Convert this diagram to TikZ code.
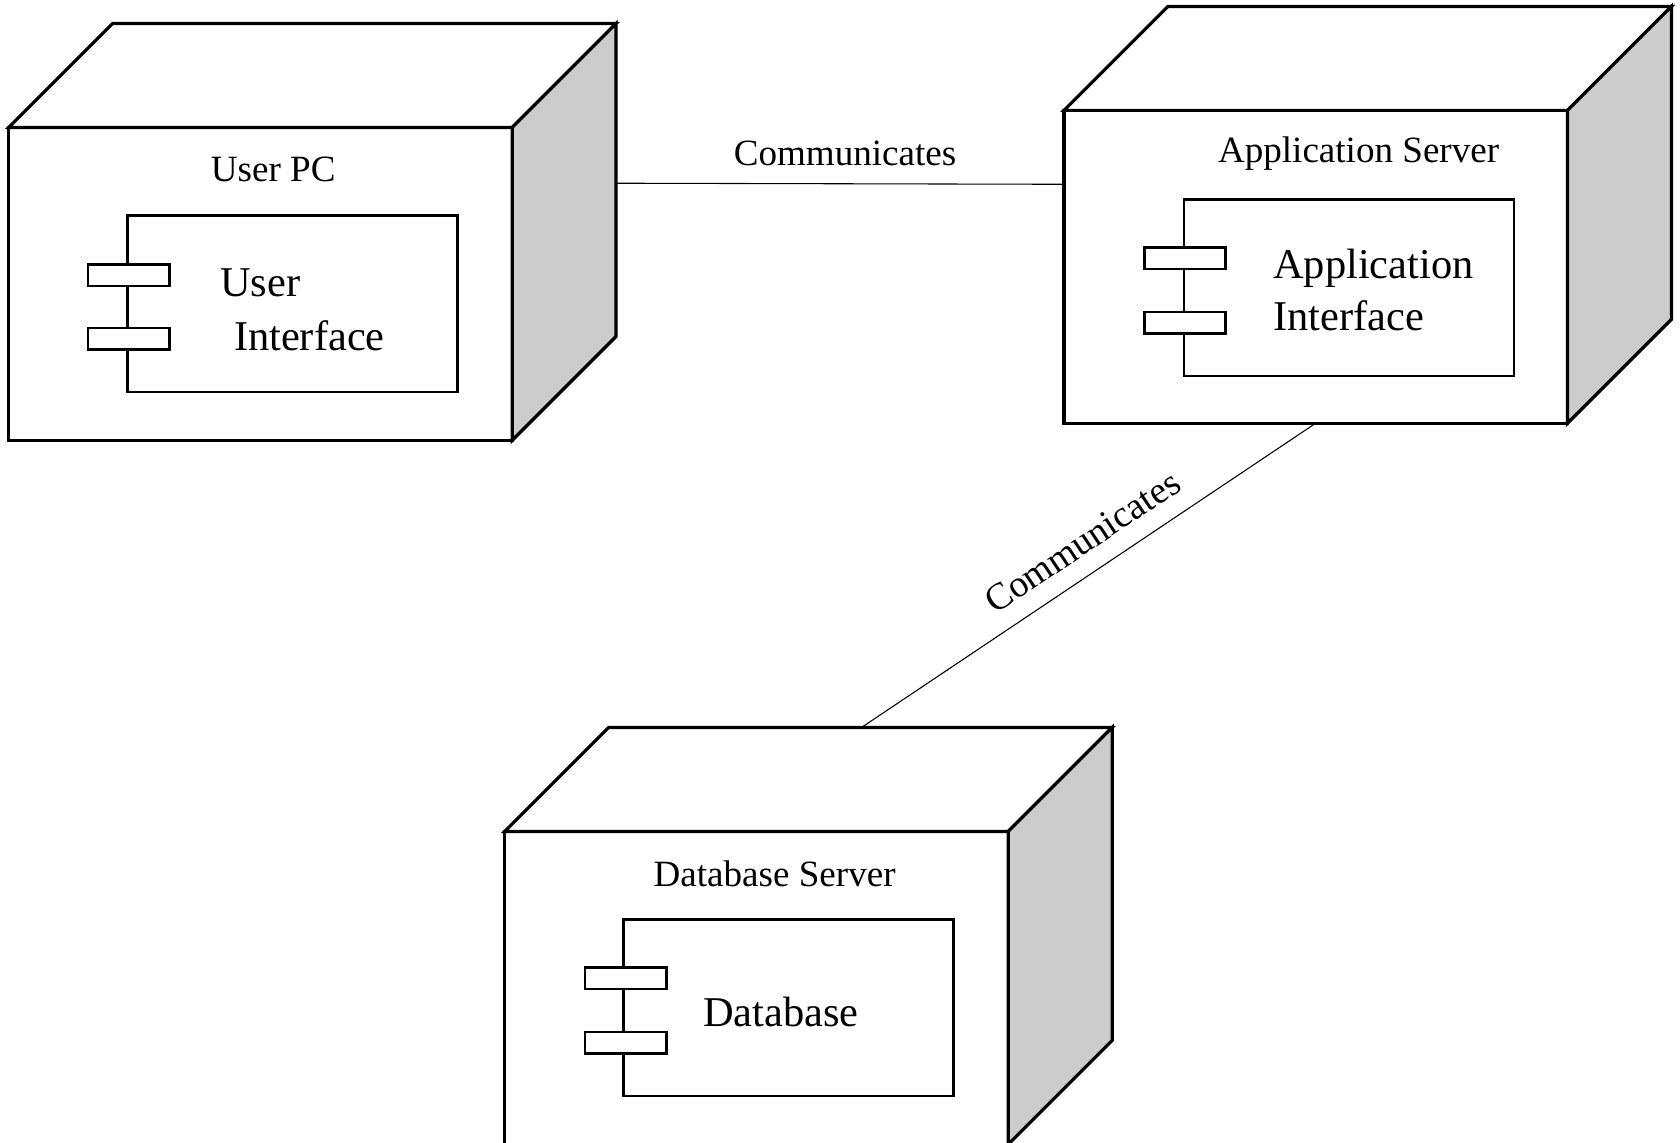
\documentclass[tikz,border=0pt]{standalone}
\usepackage{fontspec}
\setmainfont{Liberation Serif}
\definecolor{sidegray}{HTML}{CCCCCC}
\begin{document}
\begin{tikzpicture}[x=0.5pt,y=-0.5pt,
  face/.style={draw=black, line width=1.5pt, line join=miter},
  front/.style={face, fill=white, minimum width=235pt, minimum height=146pt, inner sep=0pt, outer sep=0pt, anchor=north west},
  comp/.style={draw=black, line width=1.2pt, fill=white, minimum width=154pt, minimum height=82.5pt, inner sep=0pt, outer sep=0pt, anchor=north west},
  tabbox/.style={draw=black, line width=1.2pt, fill=white, minimum width=38pt, minimum height=10pt, inner sep=0pt, outer sep=0pt, anchor=north west},
  title/.style={font=\fontsize{17.3}{20}\selectfont, inner sep=0pt, anchor=base},
  ctext/.style={font=\fontsize{19.8}{24}\selectfont, inner sep=0pt, anchor=base west},
  link/.style={draw=black, line width=0.5pt},
]
\useasboundingbox (0,0) rectangle (1568,1066);

% ---------- User PC ----------
\node[front] (upc) at (8,119) {};
\draw[face, fill=white] (upc.north west) -- ++(97,-97) -- ++(470,0) -- (upc.north east) -- cycle;
\draw[face, fill=sidegray] (upc.north east) -- ++(97,-97) -- ++(0,292) -- (upc.south east) -- cycle;
\node[title] (upctitle) at (255,169.5) {User PC};
\node[comp] (uicomp) at (119,201) {};
\node[tabbox] (uitab1) at (82,247) {};
\node[tabbox] (uitab2) at (82,306) {};
\node[ctext] (uitext1) at (205,277) {User};
\node[ctext] (uitext2) at (218,327) {Interface};
\coordinate (upcport) at (576,171);

% ---------- Application Server ----------
\node[front] (app) at (993,103) {};
\draw[face, fill=white] (app.north west) -- ++(97,-97) -- ++(470,0) -- (app.north east) -- cycle;
\draw[face, fill=sidegray] (app.north east) -- ++(97,-97) -- ++(0,292) -- (app.south east) -- cycle;
\node[title] (apptitle) at (1268,151.5) {Application Server};
\node[comp] (aicomp) at (1105,186) {};
\node[tabbox] (aitab1) at (1068,231) {};
\node[tabbox] (aitab2) at (1068,291) {};
\node[ctext] (aitext1) at (1188,260) {Application};
\node[ctext] (aitext2) at (1188,308) {Interface};
\coordinate (appport) at (993,172);

% ---------- Database Server ----------
\node[front] (db) at (471,776) {};
\draw[face, fill=white] (db.north west) -- ++(97,-97) -- ++(470,0) -- (db.north east) -- cycle;
\draw[face, fill=sidegray] (db.north east) -- ++(97,-97) -- ++(0,292) -- (db.south east) -- cycle;
\node[title] (dbtitle) at (723,827.5) {Database Server};
\node[comp] (dbcomp) at (582,858) {};
\node[tabbox] (dbtab1) at (546,903) {};
\node[tabbox] (dbtab2) at (546,963) {};
\node[ctext] (dbtext) at (656,958) {Database};
\coordinate (dbport) at (804,679);

% ---------- Connectors ----------
\draw[link] (upcport) -- (appport)
  node[pos=0.51, above=8pt, font=\fontsize{17.3}{20}\selectfont, inner sep=0pt] (lab1) {Communicates};
\draw[link] (dbport) -- (app.south)
  node[pos=0.525, sloped, above=8.5pt, font=\fontsize{17.6}{20}\selectfont, inner sep=0pt] (lab2) {Communicates};
\end{tikzpicture}
\end{document}
